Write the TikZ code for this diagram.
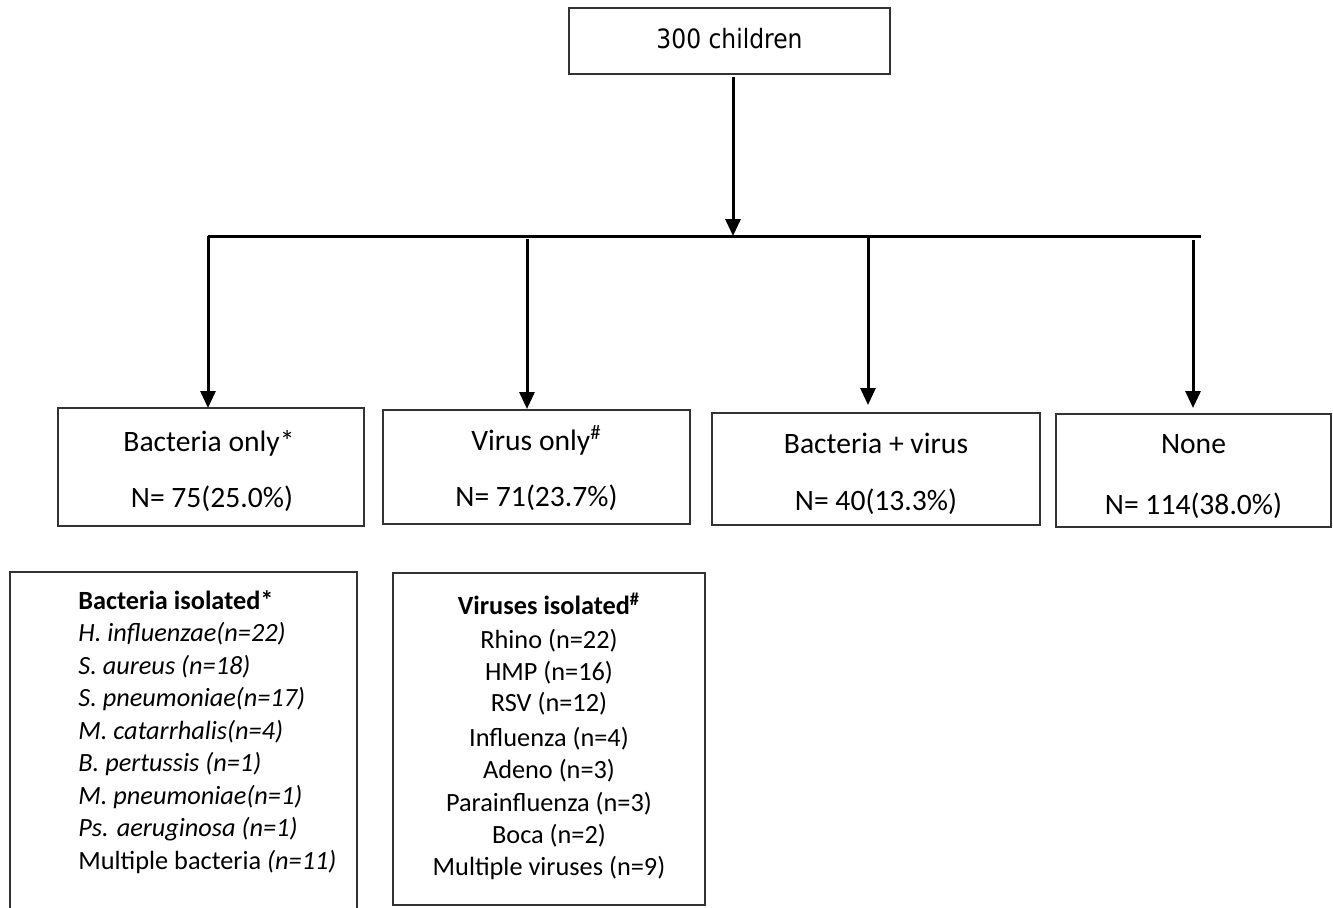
\documentclass[tikz,border=0pt]{standalone}
\usepackage{fontspec}
\setmainfont{Carlito}
\newfontfamily\dejavu[FakeStretch=0.88]{DejaVu Sans}
\usetikzlibrary{arrows.meta}
\begin{document}
\begin{tikzpicture}[x=0.5pt,y=-0.5pt,
  box/.style={draw=black!80, line width=1pt, inner sep=0pt, outer sep=0pt},
  conn/.style={line width=1.5pt, black},
  arr/.style={conn, -{Triangle[width=7.5pt,length=8.5pt]}},
  boxtxt/.style={inner sep=0pt, anchor=base, font=\fontsize{14.8}{18}\selectfont},
  listl/.style={inner sep=0pt, anchor=base west, font=\fontsize{13.15}{16}\selectfont},
  listc/.style={inner sep=0pt, anchor=base, font=\fontsize{13.15}{16}\selectfont},
]
\useasboundingbox (0,0) rectangle (1333,907);
\clip (0,0) rectangle (1333,907);

% top box
\node[box, minimum width=160.5pt, minimum height=33pt] (top) at (729.5,41) {};
\node[inner sep=0pt, font=\dejavu\fontsize{13.3}{16}\selectfont] (toptxt) at (729.5,39) {300 children};

% second-level boxes
\node[box, minimum width=153pt, minimum height=59pt] (b1) at (211,467) {};
\node[box, minimum width=153.5pt, minimum height=57pt] (b2) at (536.5,467) {};
\node[box, minimum width=164pt, minimum height=56pt] (b3) at (876,469) {};
\node[box, minimum width=137.5pt, minimum height=56.5pt] (b4) at (1193.5,470.5) {};

\node[boxtxt] (b1a) at (209,451) {Bacteria only*};
\node[boxtxt] (b1b) at (212,507) {N= 75(25.0\%)};
\node[boxtxt] (b2a) at (536.5,450) {Virus only\textsuperscript{\#}};
\node[boxtxt] (b2b) at (536.5,506) {N= 71(23.7\%)};
\node[boxtxt] (b3a) at (876,453) {Bacteria + virus};
\node[boxtxt] (b3b) at (876,510) {N= 40(13.3\%)};
\node[boxtxt] (b4a) at (1193.5,453) {None};
\node[boxtxt] (b4b) at (1193.5,514) {N= 114(38.0\%)};

% connectors
\coordinate (hub) at (733,236);
\coordinate (hl) at (208,236);
\coordinate (hr) at (1201,236);
\coordinate (v1) at (208,236);
\coordinate (v2) at (527,239);
\coordinate (v3) at (868,237);
\coordinate (v4) at (1193,240);

\draw[arr, shorten <=1.5pt] (top.south -| hub) -- (hub);
\draw[conn] (hl) -- (hr);
\draw[arr] (v1) -- (v1 |- b1.north);
\draw[arr, shorten >=0.5pt] (v2) -- (v2 |- b2.north);
\draw[arr, shorten >=4pt] (v3) -- (v3 |- b3.north);
\draw[arr, shorten >=3pt] (v4) -- (v4 |- b4.north);

% list boxes
\node[box, minimum width=173.5pt, minimum height=176.5pt] (bacbox) at (183.5,748.5) {};
\node[box, minimum width=156pt, minimum height=166pt] (virbox) at (549,739) {};

\node[listl] (bac0) at (78,609) {\textbf{Bacteria isolated*}};
\node[listl] (bac1) at (78,641.5) {\textit{H. influenzae(n=22)}};
\node[listl] (bac2) at (78,674) {\textit{S. aureus (n=18)}};
\node[listl] (bac3) at (78,706.5) {\textit{S. pneumoniae(n=17)}};
\node[listl] (bac4) at (78,739) {\textit{M. catarrhalis(n=4)}};
\node[listl] (bac5) at (78,771.5) {\textit{B. pertussis (n=1)}};
\node[listl] (bac6) at (78,804) {\textit{M. pneumoniae(n=1)}};
\node[listl] (bac7) at (78,836.5) {\textit{Ps. aeruginosa (n=1)}};
\node[listl] (bac8) at (78,869) {Multiple bacteria \textit{(n=11)}};

\node[listc] (vir0) at (549,614) {\textbf{Viruses isolated\textsuperscript{\#}}};
\node[listc] (vir1) at (549,648) {Rhino (n=22)};
\node[listc] (vir2) at (549,680) {HMP (n=16)};
\node[listc] (vir3) at (549,711) {RSV (n=12)};
\node[listc] (vir4) at (549,746) {Influenza (n=4)};
\node[listc] (vir5) at (549,778) {Adeno (n=3)};
\node[listc] (vir6) at (549,811) {Parainfluenza (n=3)};
\node[listc] (vir7) at (549,843) {Boca (n=2)};
\node[listc] (vir8) at (549,875) {Multiple viruses (n=9)};
\end{tikzpicture}
\end{document}
